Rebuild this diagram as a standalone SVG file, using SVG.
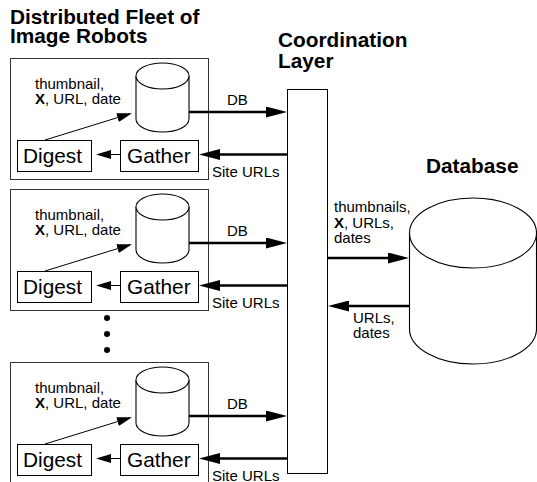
<svg xmlns="http://www.w3.org/2000/svg" width="537" height="482" viewBox="0 0 537 482">
<defs>
<style>
text{font-family:"Liberation Sans",Arial,Helvetica,sans-serif;fill:#000}
.title{font-size:20.8px;font-weight:bold}
.big{font-size:20.8px}
.lbl{font-size:15px}
.frame{fill:none;stroke:#333;stroke-width:1}
.box{fill:#fff;stroke:#000;stroke-width:1}
.cyl{fill:#fff;stroke:#000;stroke-width:1.1}
.thick{fill:none;stroke:#000;stroke-width:2.6;marker-end:url(#bigArrow)}
.thin{fill:none;stroke:#000;stroke-width:1;marker-end:url(#smallArrow)}
</style>
<marker id="bigArrow" markerUnits="userSpaceOnUse" markerWidth="21" markerHeight="11" refX="15" refY="5.5" orient="auto">
<path d="M0,0 L21,5.5 L0,11 Z" fill="#000"/>
</marker>
<marker id="smallArrow" markerUnits="userSpaceOnUse" markerWidth="15" markerHeight="9" refX="13" refY="4.5" orient="auto">
<path d="M0,0 L15,4.5 L0,9 Z" fill="#000"/>
</marker>
<g id="cylSmall">
<path class="cyl" d="M136,76 L136,119 A26.5,13 0 0 0 189,119 L189,76"/>
<ellipse class="cyl" cx="162.5" cy="76" rx="26.5" ry="13"/>
</g>
</defs>

<g id="titles">
<text class="title" x="10" y="24">Distributed Fleet of</text>
<text class="title" x="10" y="43">Image Robots</text>
</g>

<!-- Robot 1 -->
<g id="robot1">
<rect class="frame" x="10.5" y="58.5" width="198" height="121"/>
<g id="robot1-db"><use href="#cylSmall"/></g>
<g id="robot1-digest"><rect class="box" x="17.5" y="140.5" width="74" height="31"/><text class="big" x="23" y="163">Digest</text></g>
<g id="robot1-gather"><rect class="box" x="120.5" y="140.5" width="78" height="31"/><text class="big" x="127" y="163">Gather</text></g>
</g>

<!-- Robot 2 -->
<g id="robot2" transform="translate(0,131)">
<rect class="frame" x="10.5" y="58.5" width="198" height="121"/>
<g id="robot2-db"><use href="#cylSmall"/></g>
<g id="robot2-digest"><rect class="box" x="17.5" y="140.5" width="74" height="31"/><text class="big" x="23" y="163">Digest</text></g>
<g id="robot2-gather"><rect class="box" x="120.5" y="140.5" width="78" height="31"/><text class="big" x="127" y="163">Gather</text></g>
</g>

<!-- Robot 3 -->
<g id="robot3" transform="translate(0,304)">
<rect class="frame" x="10.5" y="58.5" width="198" height="121"/>
<g id="robot3-db"><use href="#cylSmall"/></g>
<g id="robot3-digest"><rect class="box" x="17.5" y="140.5" width="74" height="31"/><text class="big" x="23" y="163">Digest</text></g>
<g id="robot3-gather"><rect class="box" x="120.5" y="140.5" width="78" height="31"/><text class="big" x="127" y="163">Gather</text></g>
</g>

<g id="ellipsis">
<circle cx="107" cy="318" r="3" fill="#000"/>
<circle cx="107" cy="334" r="3" fill="#000"/>
<circle cx="107" cy="350" r="3" fill="#000"/>
</g>

<g id="coordination">
<text class="title" x="278" y="47">Coordination</text>
<text class="title" x="278" y="68">Layer</text>
<rect x="287.5" y="89.5" width="40" height="384" fill="#fff" stroke="#000" stroke-width="1"/>
</g>

<g id="database">
<text class="title" x="426" y="173">Database</text>
<path class="cyl" d="M409.5,233 L409.5,329 A63.5,35 0 0 0 536.5,329 L536.5,233"/>
<ellipse class="cyl" cx="473" cy="233" rx="63.5" ry="35"/>
</g>

<g id="connectors">
<!-- robot 1 -->
<line class="thin" x1="45" y1="140" x2="130" y2="113.8"/>
<text class="lbl" x="35" y="89">thumbnail,</text>
<text class="lbl" x="35" y="104"><tspan font-weight="bold">X</tspan>, URL, date</text>
<line class="thin" x1="120" y1="154.5" x2="98" y2="154.5"/>
<line class="thick" x1="189" y1="112" x2="281" y2="112"/>
<text class="lbl" x="227" y="105">DB</text>
<line class="thick" x1="287" y1="154.5" x2="205" y2="154.5"/>
<text class="lbl" x="212" y="177">Site URLs</text>
<!-- robot 2 -->
<line class="thin" x1="45" y1="271" x2="130" y2="244.8"/>
<text class="lbl" x="35" y="220">thumbnail,</text>
<text class="lbl" x="35" y="235"><tspan font-weight="bold">X</tspan>, URL, date</text>
<line class="thin" x1="120" y1="285.5" x2="98" y2="285.5"/>
<line class="thick" x1="189" y1="243" x2="281" y2="243"/>
<text class="lbl" x="227" y="236">DB</text>
<line class="thick" x1="287" y1="285.5" x2="205" y2="285.5"/>
<text class="lbl" x="212" y="308">Site URLs</text>
<!-- robot 3 -->
<line class="thin" x1="45" y1="444" x2="130" y2="417.8"/>
<text class="lbl" x="35" y="393">thumbnail,</text>
<text class="lbl" x="35" y="408"><tspan font-weight="bold">X</tspan>, URL, date</text>
<line class="thin" x1="120" y1="458.5" x2="98" y2="458.5"/>
<line class="thick" x1="189" y1="416" x2="281" y2="416"/>
<text class="lbl" x="227" y="409">DB</text>
<line class="thick" x1="287" y1="458.5" x2="205" y2="458.5"/>
<text class="lbl" x="212" y="481">Site URLs</text>
<!-- database -->
<line class="thick" x1="328" y1="258" x2="403" y2="258"/>
<text class="lbl" x="334" y="212">thumbnails,</text>
<text class="lbl" x="334" y="227.5"><tspan font-weight="bold">X</tspan>, URLs,</text>
<text class="lbl" x="334" y="243">dates</text>
<line class="thick" x1="409" y1="306" x2="334" y2="306"/>
<text class="lbl" x="353" y="323">URLs,</text>
<text class="lbl" x="353" y="338">dates</text>
</g>
</svg>
